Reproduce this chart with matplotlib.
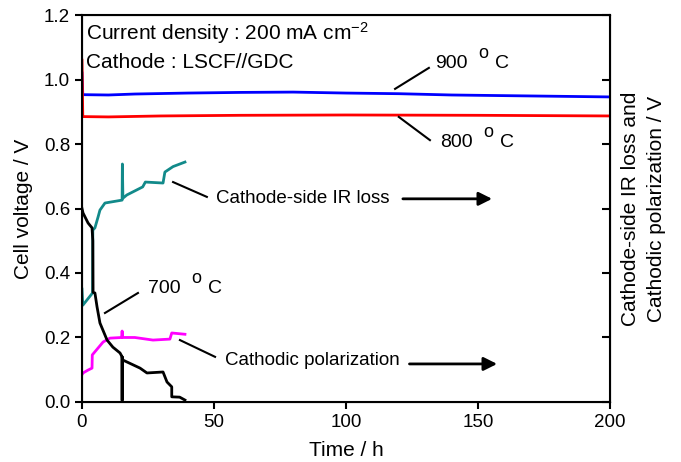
import numpy as np
import matplotlib
matplotlib.use('Agg')
import matplotlib.pyplot as plt

plt.rcParams['font.family'] = ['Liberation Sans', 'DejaVu Sans']
plt.rcParams['mathtext.fontset'] = 'custom'
plt.rcParams['mathtext.rm'] = 'Liberation Sans'
plt.rcParams['mathtext.it'] = 'Liberation Sans'

# 900 C cell voltage
t_900 = [0, 0.3, 10, 20, 40, 60, 80, 100, 120, 140, 160, 180, 200]
v_900 = [1.02, 0.953, 0.952, 0.955, 0.958, 0.960, 0.961, 0.958, 0.956, 0.952, 0.950, 0.948, 0.946]

# 800 C cell voltage
t_800 = [0, 0.3, 10, 30, 60, 100, 150, 200]
v_800 = [1.06, 0.885, 0.884, 0.887, 0.889, 0.890, 0.889, 0.887]

# 700 C cell voltage
t_700 = [0, 0.4, 2.3, 3.8, 4.1, 4.2, 4.9, 5.7, 6.8, 9.5, 11.7, 14.4, 15.2, 15.2, 15.2, 15.5,
         22, 24.6, 30.7, 32.2, 34.0, 34.0, 37.0, 39.0]
v_700 = [0.60, 0.586, 0.555, 0.54, 0.50, 0.34, 0.338, 0.295, 0.245, 0.192, 0.17, 0.152, 0.14, 0.005,
         0.14, 0.13, 0.105, 0.09, 0.093, 0.062, 0.047, 0.016, 0.015, 0.006]

# cathode-side IR loss
t_ir = [0, 0.3, 4.0, 4.1, 4.9, 6.1, 6.8, 8.7, 15.2, 15.3, 15.5, 17, 23, 24, 30.7,
        31.4, 34.5, 39]
v_ir = [0.35, 0.30, 0.338, 0.533, 0.54, 0.574, 0.595, 0.617, 0.626, 0.738, 0.632, 0.642,
        0.667, 0.682, 0.679, 0.713, 0.73, 0.744]

# cathodic polarization
t_pol = [0, 0.4, 2.3, 3.8, 3.9, 8, 10.6, 15.0, 15.2, 15.4, 20, 26.9, 33.3, 34, 39]
v_pol = [0.085, 0.09, 0.099, 0.105, 0.146, 0.186, 0.198, 0.20, 0.22, 0.20, 0.20, 0.192, 0.195, 0.214, 0.21]

fig = plt.figure(figsize=(6.81, 4.62), dpi=100)
ax = fig.add_axes([0.1204, 0.1299, 0.7753, 0.8376])

ax.plot(t_900, v_900, color='#0000ff', lw=2)
ax.plot(t_800, v_800, color='#ff0000', lw=2)
ax.plot(t_ir, v_ir, color='#128a8a', lw=2)
ax.plot(t_pol, v_pol, color='#ff00ff', lw=2)
ax.plot(t_700, v_700, color='black', lw=2)

ax.set_xlim(0, 200)
ax.set_ylim(0, 1.2)
ax.set_xticks([0, 50, 100, 150, 200])
ax.set_yticks(np.arange(0, 1.21, 0.2))
ax.set_yticklabels(['%.1f' % v for v in np.arange(0, 1.21, 0.2)])
ax.tick_params(direction='out', length=5, width=1.5, labelsize=13.5, top=False, right=False)
for s in ax.spines.values():
    s.set_linewidth(1.5)

ax.set_xlabel('Time / h', fontsize=15, labelpad=7)
ax.set_ylabel('Cell voltage / V', fontsize=15, labelpad=8)

ax2 = ax.twinx()
ax2.set_ylim(0, 1.2)
ax2.set_yticks(np.arange(0, 1.21, 0.2))
ax2.tick_params(direction='in', length=6, width=1.5, labelright=False)
ax2.set_ylabel('Cathode-side IR loss and\nCathodic polarization / V', fontsize=15,
               labelpad=8, linespacing=1.45)

fs = 15
ax.text(1.5, 1.122, 'Current density : 200 mA cm$^{-2}$', fontsize=fs, va='baseline')
ax.text(1.5, 1.036, 'Cathode : LSCF//GDC', fontsize=fs, va='baseline')


def deg_label(x, y, num):
    ax.text(x, y, num, fontsize=14, va='baseline')
    ax.annotate('o', xy=(x, y), xytext=(31, 7), textcoords='offset points',
                fontsize=13, va='baseline')
    ax.annotate('C', xy=(x, y), xytext=(43, 0), textcoords='offset points',
                fontsize=14, va='baseline')


deg_label(133.7, 1.036, '900')
ax.plot([118.6, 131.4], [0.971, 1.036], color='black', lw=1.5)
deg_label(135.6, 0.791, '800')
ax.plot([120, 131.8], [0.884, 0.812], color='black', lw=1.5)
deg_label(25, 0.338, '700')
ax.plot([8.7, 21.2], [0.276, 0.338], color='black', lw=1.5)

ax.text(50.8, 0.63, 'Cathode-side IR loss', fontsize=13.5, va='center')
ax.plot([34.5, 47.3], [0.682, 0.636], color='black', lw=1.5)
ax.annotate('', xy=(156.4, 0.63), xytext=(120.5, 0.63),
            arrowprops=dict(arrowstyle='-|>', lw=2, color='black', mutation_scale=20))

ax.text(54.2, 0.13, 'Cathodic polarization', fontsize=13.5, va='center')
ax.plot([37.1, 50.4], [0.192, 0.14], color='black', lw=1.5)
ax.annotate('', xy=(158.3, 0.118), xytext=(123, 0.118),
            arrowprops=dict(arrowstyle='-|>', lw=2, color='black', mutation_scale=20))

fig.savefig('out.png', dpi=100)
